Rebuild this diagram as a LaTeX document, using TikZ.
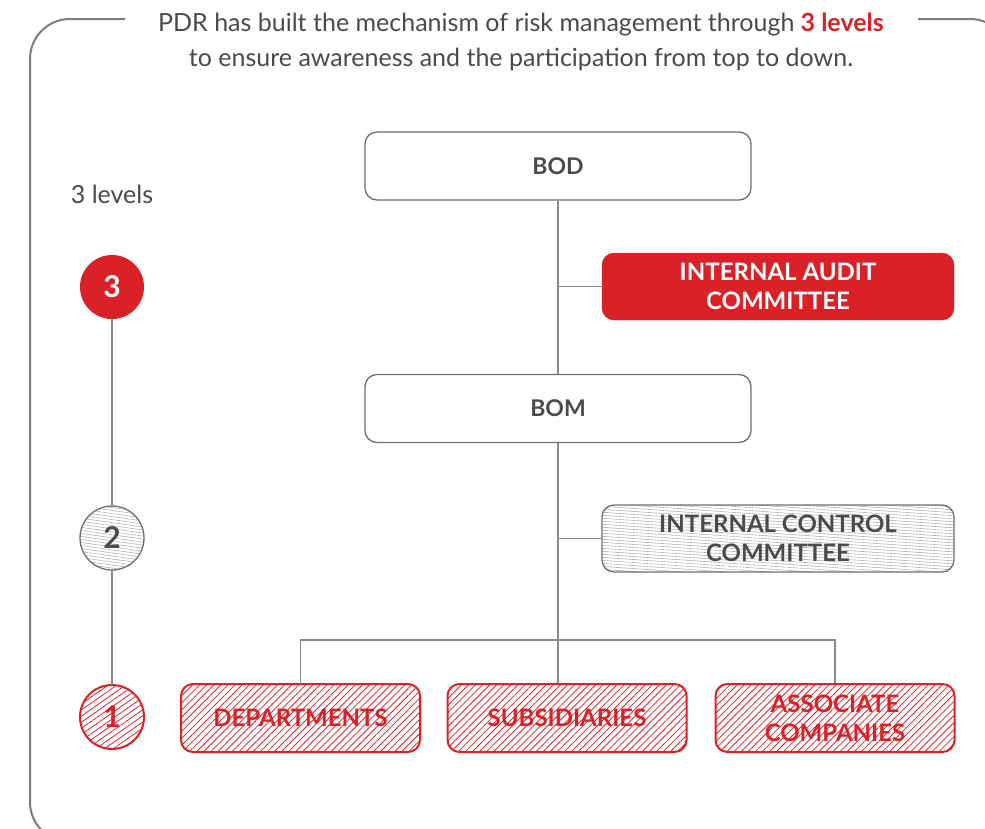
\documentclass[tikz,border=0pt]{standalone}
\usepackage{fontspec}
\setmainfont{Lato}
\usetikzlibrary{patterns.meta}
\definecolor{pdrred}{HTML}{DA2128}
\definecolor{txtgray}{HTML}{4A4A4A}
\definecolor{linegray}{HTML}{8A8A8A}
\definecolor{hatchgray}{HTML}{B0B0B0}
\tikzset{
  frame/.style={draw=linegray!90!black, line width=2pt, rounded corners=40pt},
  conn/.style={draw=linegray, line width=1.8pt},
  plainbox/.style={draw=linegray!80!black, line width=1.3pt, fill=white, rounded corners=12pt,
    minimum width=386pt, minimum height=68pt, font=\fontsize{23}{25}\selectfont\bfseries, text=txtgray},
  sidebox/.style={rounded corners=12pt, minimum width=352pt, minimum height=67pt,
    align=center, font=\fontsize{24}{29}\selectfont\bfseries},
  redbox/.style={sidebox, fill=pdrred, draw=pdrred, text=white},
  graybox/.style={sidebox, draw=linegray!80!black, line width=1.3pt, text=txtgray,
    pattern={Lines[angle=-4,distance=3pt,line width=0.6pt]}, pattern color=hatchgray},
  unitbox/.style={draw=pdrred, line width=2pt, rounded corners=12pt, minimum width=239pt,
    minimum height=68pt, align=center, text=pdrred, font=\fontsize{24}{29}\selectfont\bfseries,
    pattern={Lines[angle=45,distance=5pt,line width=0.8pt]}, pattern color=pdrred},
  levelball/.style={circle, minimum size=64pt, inner sep=0pt, font=\fontsize{30}{32}\selectfont\bfseries},
}
\begin{document}
\begin{tikzpicture}[x=1pt,y=-1pt]
\useasboundingbox (0,0) rectangle (985,828);
\clip (0,0) rectangle (985,828);

% outer frame, broken at the top for the heading
\draw[frame] (918,19) -- (1010,19) -- (1010,842) -- (30,842) -- (30,19) -- (125,19);

% heading
\node[align=center, text=txtgray, font=\fontsize{25}{35}\selectfont] (title) at (521,42)
  {PDR has built the mechanism of risk management through \textcolor{pdrred}{\bfseries 3 levels}\\
   to ensure awareness and the participation from top to down.};

% level scale on the left
\node[text=txtgray, font=\fontsize{25}{28}\selectfont] (scale) at (112,194) {3 levels};
\node[levelball, fill=pdrred, text=white] (lv3) at (112,287) {3};
\node[levelball, draw=linegray!80!black, line width=1.3pt, text=txtgray,
      pattern={Lines[angle=-8,distance=3pt,line width=0.6pt]}, pattern color=hatchgray] (lv2) at (112,538) {2};
\node[levelball, draw=pdrred, line width=2pt, text=pdrred,
      pattern={Lines[angle=35,distance=5pt,line width=0.8pt]}, pattern color=pdrred] (lv1) at (112,717) {1};
\draw[conn] (lv3) -- (lv2);
\draw[conn] (lv2) -- (lv1);

% governance boxes
\node[plainbox] (bod) at (558,166) {BOD};
\node[redbox] (audit) at (778,286.5) {INTERNAL AUDIT\\COMMITTEE};
\node[plainbox] (bom) at (558,408.5) {BOM};
\node[graybox] (control) at (778,538.5) {INTERNAL CONTROL\\COMMITTEE};

% operating units
\node[unitbox] (dept) at (300.5,718) {DEPARTMENTS};
\node[unitbox] (subs) at (567,718) {SUBSIDIARIES};
\node[unitbox] (assoc) at (835,718) {ASSOCIATE\\COMPANIES};

% connectors
\coordinate (bus) at (558,640);
\draw[conn] (bod.south) -- (bom.north);
\draw[conn] (audit.west) -- (audit.west -| bod.south);
\draw[conn] (bom.south) -- (bom.south |- subs.north);
\draw[conn] (control.west) -- (control.west -| bom.south);
\draw[conn] (dept.north) |- (bus) -| (assoc.north);
\end{tikzpicture}
\end{document}
